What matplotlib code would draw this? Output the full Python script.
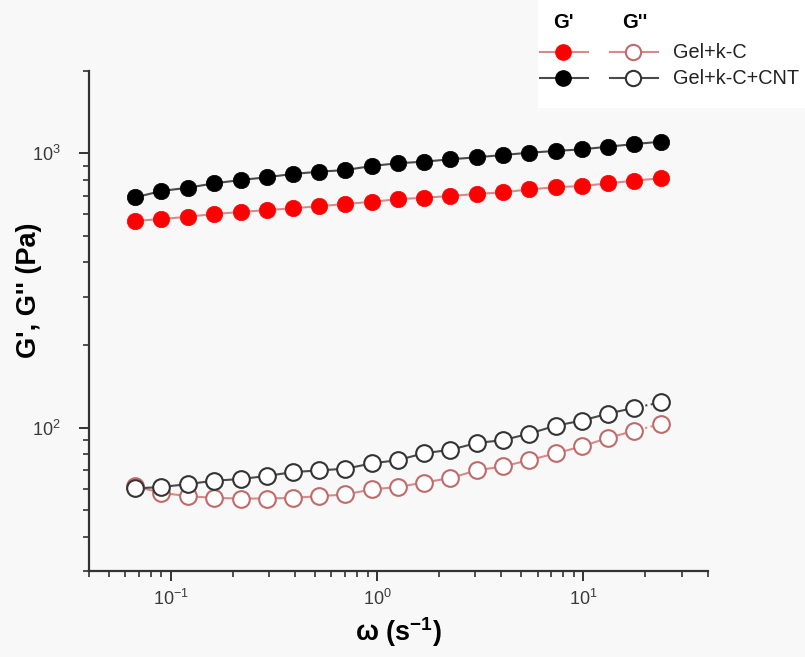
import matplotlib
matplotlib.use("Agg")
import matplotlib.pyplot as plt
from matplotlib.lines import Line2D
from matplotlib.patches import Rectangle
from matplotlib.ticker import LogLocator, NullFormatter

plt.rcParams['font.family'] = ['Liberation Sans', 'DejaVu Sans']
plt.rcParams['mathtext.fontset'] = 'custom'
plt.rcParams['mathtext.rm'] = 'Liberation Sans'
plt.rcParams['mathtext.bf'] = 'Liberation Sans:bold'
plt.rcParams['mathtext.it'] = 'Liberation Sans:italic'

# ---- data ----
omega = [0.0673, 0.0902, 0.121, 0.162, 0.218, 0.292, 0.391, 0.525, 0.703, 0.944,
         1.26, 1.69, 2.27, 3.05, 4.09, 5.48, 7.35, 9.86, 13.2, 17.7, 23.8]
g1_gel = [567, 576, 587, 601, 611, 621, 630, 642, 653, 666, 680, 689, 699, 711,
          721, 739, 752, 760, 777, 795, 811]
g1_cnt = [691, 729, 749, 777, 799, 818, 841, 857, 869, 899, 920, 932, 951, 967,
          986, 1005, 1020, 1034, 1057, 1081, 1102]
g2_gel = [61.1, 57.9, 56.3, 55.5, 55.2, 55.2, 55.5, 56.3, 57.1, 59.6, 60.8, 63.1,
          65.6, 69.9, 72.3, 76.2, 80.7, 85.5, 91.9, 97.4, 103.2]
g2_cnt = [60.1, 60.8, 62.3, 64.1, 65.0, 66.7, 68.9, 69.9, 70.9, 74.1, 76.2, 80.7,
          83.1, 88.0, 90.1, 95.2, 101.7, 106.2, 112.6, 118.2, 123.7]
labels = ["Gel+k-C", "Gel+k-C+CNT"]
headers = ["G'", "G''"]

RED = '#ff0000'
RED_LINE = '#d88a8a'
RED_OPEN = '#c06a6a'
BLK_LINE = '#4a4a4a'
BLK_OPEN = '#333333'
BG = '#f8f8f8'

fig = plt.figure(figsize=(8.05, 6.57), dpi=100, facecolor=BG)
ax = fig.add_axes([0.1101, 0.1306, 0.7688, 0.7618])
ax.set_facecolor(BG)

ms_f = 11.8
ms_o = 12.0

# G'' (open)
for y, lc, ec in [(g2_gel, RED_LINE, RED_OPEN), (g2_cnt, BLK_LINE, BLK_OPEN)]:
    ax.plot(omega[:-1], y[:-1], '-', color=lc, lw=1.5, zorder=2)
    ax.plot(omega[-2:], y[-2:], ':', color=lc, lw=1.5, zorder=2)
    ax.plot(omega, y, 'o', ms=ms_o, mfc='white', mec=ec, mew=1.5, zorder=3)

# G' (filled)
for y, lc, fc in [(g1_gel, RED_LINE, RED), (g1_cnt, BLK_LINE, 'black')]:
    ax.plot(omega, y, '-', color=lc, lw=1.5, zorder=2)
    ax.plot(omega, y, 'o', ms=ms_f, mfc=fc, mec=fc, mew=0.5, zorder=3)

ax.set_xscale('log')
ax.set_yscale('log')
ax.set_xlim(0.04, 40)
ax.set_ylim(30, 2000)

for s in ['top', 'right']:
    ax.spines[s].set_visible(False)
for s in ['left', 'bottom']:
    ax.spines[s].set_linewidth(1.6)
    ax.spines[s].set_color('#333333')

ax.xaxis.set_major_locator(LogLocator(base=10, numticks=10))
ax.xaxis.set_minor_locator(LogLocator(base=10, subs=range(2, 10), numticks=20))
ax.yaxis.set_major_locator(LogLocator(base=10, numticks=10))
ax.yaxis.set_minor_locator(LogLocator(base=10, subs=range(2, 10), numticks=20))
ax.xaxis.set_minor_formatter(NullFormatter())
ax.yaxis.set_minor_formatter(NullFormatter())
ax.tick_params(which='major', direction='out', length=7, width=1.4, color='#333333',
               labelsize=13, labelcolor='#3a3a3a', pad=6)
ax.tick_params(axis='y', which='major', pad=13)
ax.tick_params(which='minor', direction='out', length=4.5, width=1.2, color='#333333')

ax.set_ylabel("G', G'' (Pa)", fontsize=19.5, fontweight='bold')
ax.yaxis.set_label_coords(-0.076, 0.562)
ax.set_xlabel(r"ω (s$^{\mathbf{-1}}$)", fontsize=19.5, fontweight='bold', labelpad=4)

# ---- legend (manual, in figure pixels) ----
W, H = 805.0, 657.0
fig.patches.append(Rectangle((538 / W, 1 - 108 / H), (W - 538) / W, 108 / H,
                             transform=fig.transFigure, facecolor='white',
                             edgecolor='none', zorder=0))

def fx(px):
    return px / W

def fy(py):
    return 1 - py / H

fig.text(fx(563), fy(22), headers[0], fontsize=14.5, fontweight='bold', ha='center', va='center')
fig.text(fx(635), fy(22), headers[1], fontsize=14.5, fontweight='bold', ha='center', va='center')
rows = [(52, RED_LINE, RED, RED_OPEN), (78, BLK_LINE, 'black', BLK_OPEN)]
for (py, lc, fc, ec), lab in zip(rows, labels):
    fig.lines.append(Line2D([fx(540), fx(588)], [fy(py), fy(py)], color=lc, lw=1.5,
                            transform=fig.transFigure))
    fig.lines.append(Line2D([fx(563)], [fy(py)], marker='o', ms=11, mfc=fc, mec=fc,
                            transform=fig.transFigure))
    fig.lines.append(Line2D([fx(610), fx(658)], [fy(py), fy(py)], color=lc, lw=1.5,
                            transform=fig.transFigure))
    fig.lines.append(Line2D([fx(633)], [fy(py)], marker='o', ms=11, mfc='white', mec=ec,
                            mew=1.5, transform=fig.transFigure))
    fig.text(fx(673), fy(py), lab, fontsize=14.3, ha='left', va='center', color='#222222')

fig.savefig('out.png', dpi=100, facecolor=BG)
